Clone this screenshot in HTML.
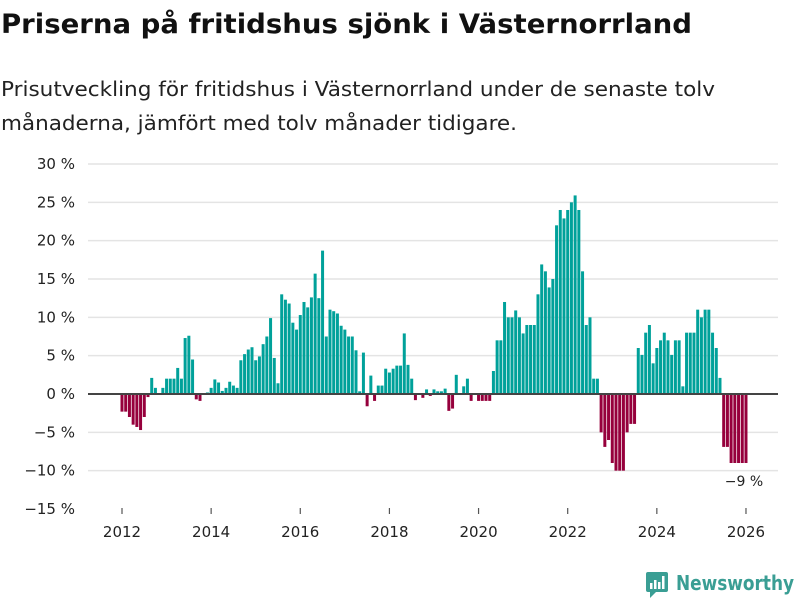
<!DOCTYPE html>
<html><head><meta charset="utf-8"><style>
body{margin:0;background:#fff;font-family:"DejaVu Sans","Liberation Sans",sans-serif;}
#wrap{position:relative;width:800px;height:600px;overflow:hidden}
svg text{font-family:"DejaVu Sans","Liberation Sans",sans-serif}
</style></head><body>
<div id="wrap">
<svg id="chart" width="800" height="600">
<text x="1" y="33" font-size="27" font-weight="bold" fill="#111" textLength="691" lengthAdjust="spacingAndGlyphs">Priserna på fritidshus sjönk i Västernorrland</text>
<text x="1" y="96" font-size="20" fill="#222" textLength="714" lengthAdjust="spacingAndGlyphs">Prisutveckling för fritidshus i Västernorrland under de senaste tolv</text>
<text x="1" y="130" font-size="20" fill="#222" textLength="516" lengthAdjust="spacingAndGlyphs">månaderna, jämfört med tolv månader tidigare.</text>
<g id="grid"></g><g id="bars"></g><g id="xaxis"></g>
<text x="744" y="486" font-size="14" fill="#222" text-anchor="middle">−9 %</text>
<g>
<rect x="646" y="572" width="22" height="20" rx="2" fill="#3a9e94"/>
<polygon points="650,592 656,592 650,598" fill="#3a9e94"/>
<rect x="650" y="583" width="2.5" height="6" fill="#fff"/><rect x="654" y="580" width="2.5" height="9" fill="#fff"/><rect x="658" y="582" width="2.5" height="7" fill="#fff"/><rect x="662" y="576" width="2.5" height="13" fill="#fff"/>
<text x="676" y="590" font-size="20" fill="#3a9e94" font-weight="bold" textLength="118" lengthAdjust="spacingAndGlyphs">Newsworthy</text>
</g>
</svg></div>
<script>
const startYear = 2012;
const values = [
-2.3,-2.3,-3.0,-4.0,-4.3,-4.7,-3.0,-0.4,2.1,0.8,0,0.8,
2.0,2.0,2.0,3.4,2.0,7.3,7.6,4.5,-0.7,-0.9,0,0.2,
0.8,1.9,1.5,0.4,0.8,1.6,1.1,0.8,4.4,5.2,5.8,6.1,
4.4,4.9,6.5,7.5,9.9,4.7,1.4,13.0,12.3,11.8,9.3,8.4,
10.3,12.0,11.3,12.6,15.7,12.5,18.7,7.5,11.0,10.8,10.5,8.9,
8.4,7.5,7.5,5.7,0.35,5.4,-1.6,2.4,-0.9,1.1,1.1,3.3,
2.8,3.3,3.7,3.7,7.9,3.8,2.0,-0.8,0,-0.5,0.6,-0.25,
0.6,0.35,0.35,0.7,-2.2,-1.9,2.5,0,1.0,2.0,-0.9,0,
-0.9,-0.9,-0.9,-0.9,3.0,7.0,7.0,12.0,10.0,10.0,10.9,10.0,
7.9,9.0,9.0,9.0,13.0,16.9,16.0,13.9,15.0,22.0,24.0,22.9,
24.0,25.0,25.9,24.0,16.0,9.0,10.0,2.0,2.0,-5.0,-6.9,-6.0,
-9,-10,-10,-10,-5,-3.9,-3.9,6.0,5.1,8,9,4,
6,7,8,7,5.1,7,7,1,8,8,8,11,
10,11,11,8,6,2.1,-6.9,-6.9,-9,-9,-9,-9,-9
];
const yTicks = [30,25,20,15,10,5,0,-5,-10,-15];
const yTickLabels = ["30 %","25 %","20 %","15 %","10 %","5 %","0 %","−5 %","−10 %","−15 %"];
const xTicks = [2012,2014,2016,2018,2020,2022,2024,2026];

const NS="http://www.w3.org/2000/svg";
const y0=394, pxPerPct=7.667;
function y(v){return y0 - v*pxPerPct;}
const x2012=122, pxPerYear=44.57;
function xMonth(i){return x2012 + i*pxPerYear/12;}
function xYear(yr){return x2012 + (yr-startYear)*pxPerYear;}
function mk(tag,attrs,parent){const e=document.createElementNS(NS,tag);for(const k in attrs)e.setAttribute(k,attrs[k]);parent.appendChild(e);return e;}
const grid=document.getElementById('grid'), bars=document.getElementById('bars'), xa=document.getElementById('xaxis');
yTicks.forEach((t,k)=>{
  if(t!==0 && t!==-15){const l=mk('line',{x1:88,x2:778,y1:y(t),y2:y(t),stroke:'#e4e4e4','stroke-width':1.5},grid);
  
  }
  const tx=mk('text',{x:75,y:y(t)+5,'font-size':15,fill:'#222','text-anchor':'end'},grid);
  tx.textContent=yTickLabels[k];
  
  
});
values.forEach((v,i)=>{
  const cx=xMonth(i), w=3.0;
  const top=v>=0?y(v):y0, h=Math.abs(v)*pxPerPct;
  const r=mk('rect',{x:cx-w/2,y:top,width:w,height:h,fill:v>=0?'#00a19a':'#96003c'},bars);
  
  
});
const zl=mk('line',{x1:88,x2:778,y1:y0,y2:y0,stroke:'#444','stroke-width':2},bars);


xTicks.forEach(yr=>{
  const xx=xYear(yr);
  const tk=mk('line',{x1:xx,x2:xx,y1:508,y2:514,stroke:'#555','stroke-width':1.2},xa);
  
  
  const tx=mk('text',{x:xx,y:537,'font-size':15,fill:'#222','text-anchor':'middle'},xa);
  tx.textContent=String(yr);
  
  
});
</script>
</body></html>
